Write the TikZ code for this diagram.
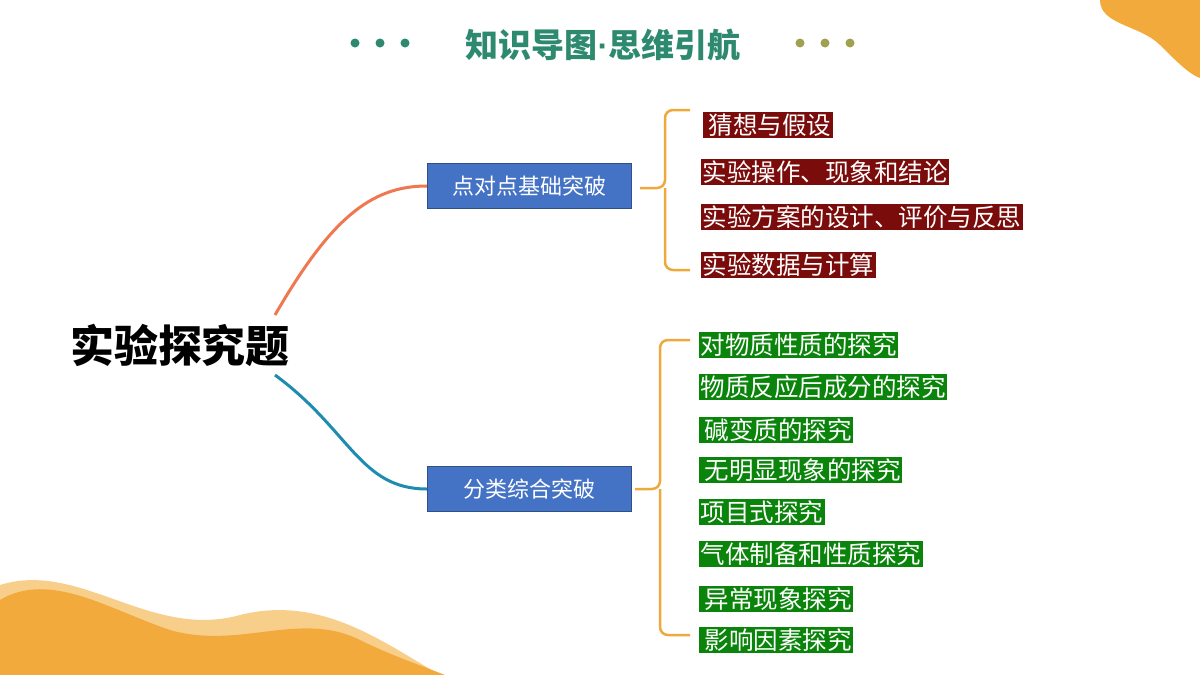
\documentclass[tikz,border=0pt]{standalone}
\usepackage{fontspec}
\setmainfont{Noto Sans CJK SC}
\newfontfamily\latinfont{Liberation Sans}
\usetikzlibrary{positioning}
\definecolor{hdgreen}{HTML}{2E8A6E}
\definecolor{dotolive}{HTML}{A0A050}
\definecolor{blobor}{HTML}{F2AA3C}
\definecolor{bloblt}{HTML}{F8CF8A}
\definecolor{boxblue}{HTML}{4472C4}
\definecolor{linered}{HTML}{F07850}
\definecolor{lineteal}{HTML}{1E8CB0}
\definecolor{bracor}{HTML}{EEA93C}
\definecolor{itemred}{HTML}{7B0C0C}
\definecolor{itemgreen}{HTML}{0A840A}

\begin{document}
\begin{tikzpicture}[x=1pt,y=-1pt,
    branch/.style={draw=boxblue!70!black,fill=boxblue,text=white,minimum width=204pt,minimum height=45pt,font=\fontsize{22}{22}\selectfont},
    redtag/.style={fill=itemred,text=white,anchor=west,inner sep=1.5pt,font=\fontsize{24.5}{24.5}\selectfont},
    greentag/.style={fill=itemgreen,text=white,anchor=west,inner sep=1.5pt,font=\fontsize{24.5}{24.5}\selectfont},
    brace/.style={draw=bracor,line width=2.5pt,rounded corners=8pt}]
    \useasboundingbox (0,0) rectangle (1200,675);

    % corner blobs
    \fill[bloblt] (0,585) .. controls (80,560) and (150,640) .. (240,615)
        .. controls (320,595) and (380,640) .. (440,675) -- (0,675) -- cycle;
    \fill[blobor] (0,600) .. controls (50,570) and (110,610) .. (170,630)
        .. controls (240,650) and (300,610) .. (360,640)
        .. controls (390,655) and (420,665) .. (445,675) -- (0,675) -- cycle;
    \fill[blobor] (1100,0) .. controls (1100,25) and (1140,25) .. (1160,45)
        .. controls (1175,60) and (1190,75) .. (1200,78) -- (1200,0) -- cycle;

    % header
    \node[text=hdgreen,font=\fontsize{33}{33}\selectfont\bfseries] (title) at (603,45) {知识导图{\latinfont ·}思维引航};
    \foreach \x in {355,380,405} \fill[hdgreen] (\x,43) circle (4.5pt);
    \foreach \x in {800,825,850} \fill[dotolive] (\x,43) circle (4.5pt);

    % root and branches
    \node[font=\fontsize{44}{44}\selectfont\bfseries] (root) at (180,345) {实验探究题};
    \node[branch] (b_1) at (529,186) {点对点基础突破};
    \node[branch] (b_2) at (529,489) {分类综合突破};
    \coordinate (r_1) at (275,315);
    \coordinate (r_2) at (275,375);
    \draw[linered,line width=3pt] (r_1) .. controls (330,220) and (370,186) .. (b_1.west);
    \draw[lineteal,line width=3pt] (r_2) .. controls (350,430) and (360,489) .. (b_2.west);

    % braces
    \draw[brace] (690,110) -| (665,188) -- (640,188);
    \draw[brace] (665,188) |- (690,270);
    \draw[brace] (690,340) -| (660,489) -- (635,489);
    \draw[brace] (660,489) |- (690,635);

    % leaves
    \node[redtag] (t_1) at (703,125) {\,猜想与假设};
    \node[redtag] (t_2) at (701,172) {实验操作、现象和结论};
    \node[redtag] (t_3) at (701,217) {实验方案的设计、评价与反思};
    \node[redtag] (t_4) at (701,265) {实验数据与计算};

    \node[greentag] (g_1) at (699,345) {对物质性质的探究};
    \node[greentag] (g_2) at (699,387) {物质反应后成分的探究};
    \node[greentag] (g_3) at (699,430) {\,碱变质的探究};
    \node[greentag] (g_4) at (699,470) {\,无明显现象的探究};
    \node[greentag] (g_5) at (699,512) {项目式探究};
    \node[greentag] (g_6) at (699,554) {气体制备和性质探究};
    \node[greentag] (g_7) at (699,599) {\,异常现象探究};
    \node[greentag] (g_8) at (699,640) {\,影响因素探究};
\end{tikzpicture}
\end{document}
